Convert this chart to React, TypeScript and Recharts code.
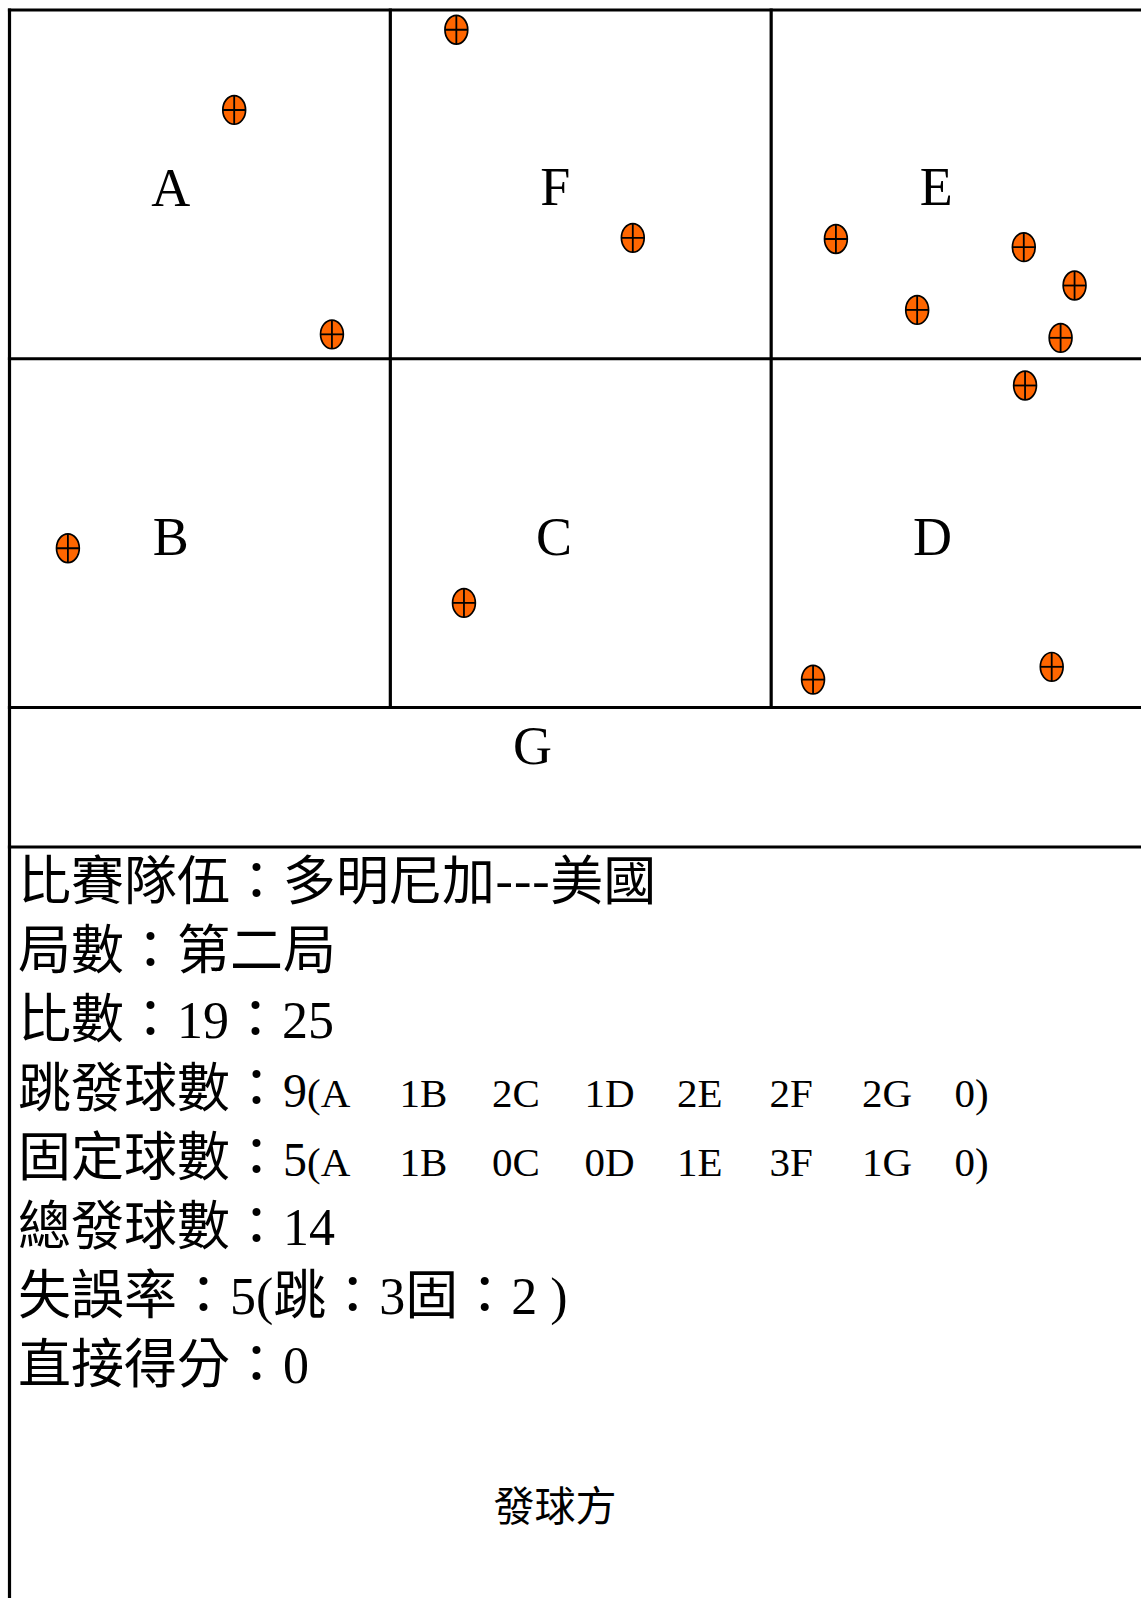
import React from 'react'
import { ScatterChart, Scatter, XAxis, YAxis, ReferenceLine } from 'recharts'

// court units: every zone is 3 x 3, the G strip under them is 1.2 deep
const colLines = [0, 3, 6, 9]
const rowLines = [0, 3, 6, 7.2]
const leftEdgeEnd = 13.7

const zoneNames = ['A', 'F', 'E', 'B', 'C', 'D', 'G']
const zoneLabelX = [1.27, 4.3, 7.3, 1.27, 4.29, 7.27, 4.12]
const zoneLabelY = [1.53, 1.52, 1.52, 4.53, 4.53, 4.53, 6.33]

// where each serve landed
const ballX = [1.77, 2.54, 3.52, 4.91, 6.51, 7.15, 7.99, 8.39, 8.28, 0.46, 3.58, 8.0, 6.33, 8.21]
const ballY = [0.86, 2.79, 0.17, 1.96, 1.97, 2.58, 2.04, 2.37, 2.82, 4.63, 5.1, 3.23, 5.76, 5.65]

// summary numbers
const teams = ['多明尼加', '美國']
const setLabel = '第二局'
const score = [19, 25]
const breakdownZones = ['A', 'B', 'C', 'D', 'E', 'F', 'G']
const jumpByZone = [1, 2, 1, 2, 2, 2, 0]
const floatByZone = [1, 0, 0, 1, 3, 1, 0]
const serveTotals = [9, 5, 14] // jump, float, all
const errors = [5, 3, 2] // total, jump, float
const aces = 0

const cjk = '"Noto Sans CJK TC", "Noto Sans CJK SC", sans-serif'
const serif = '"Liberation Serif", "Times New Roman", serif'

const balls = ballX.map((x, i) => ({ x, y: ballY[i] }))
const labels = zoneNames.map((name, i) => ({ x: zoneLabelX[i], y: zoneLabelY[i], name }))

function Ball({ cx, cy }: any) {
  const rx = 11.4
  const ry = 14.3
  return (
    <g>
      <ellipse cx={cx} cy={cy} rx={rx} ry={ry} fill="#FF6600" stroke="#000" strokeWidth={1.7} />
      <line x1={cx} y1={cy - ry} x2={cx} y2={cy + ry} stroke="#000" strokeWidth={1.8} />
      <line x1={cx - rx} y1={cy} x2={cx + rx} y2={cy} stroke="#000" strokeWidth={1.8} />
    </g>
  )
}

function ZoneLabel({ cx, cy, payload }: any) {
  return (
    <text x={cx} y={cy} textAnchor="middle" dominantBaseline="central" fontFamily={serif} fontSize={54} fill="#000">
      {payload.name}
    </text>
  )
}

const S = ({ children, size = 52 }: { children: React.ReactNode; size?: number }) => (
  <span style={{ fontFamily: serif, fontSize: size, lineHeight: 1 }}>{children}</span>
)

function Breakdown({ counts }: { counts: number[] }) {
  const groups = ['(' + breakdownZones[0]]
  for (let i = 1; i < breakdownZones.length; i++) groups.push(counts[i - 1] + breakdownZones[i])
  groups.push(counts[counts.length - 1] + ')')
  return (
    <>
      {groups.map((g, i) => (
        <span key={i} style={{ display: 'inline-block', width: i === groups.length - 1 ? 'auto' : 92.5, fontFamily: serif, fontSize: 41, lineHeight: 1 }}>
          {g}
        </span>
      ))}
    </>
  )
}

const LINE_H = 68.9

export default function App() {
  const rows: React.ReactNode[] = [
    <>比賽隊伍：{teams.join('---')}</>,
    <>局數：{setLabel}</>,
    <>比數：<S>{score[0]}</S>：<S>{score[1]}</S></>,
    <>跳發球數：<S size={48}>{serveTotals[0]}</S><Breakdown counts={jumpByZone} /></>,
    <>固定球數：<S size={48}>{serveTotals[1]}</S><Breakdown counts={floatByZone} /></>,
    <>總發球數：<S>{serveTotals[2]}</S></>,
    <>失誤率：<S>{errors[0]}(</S>跳：<S>{errors[1]}</S>固：<S>{errors[2]} )</S></>,
    <>直接得分：<S>{aces}</S></>,
  ]
  const line = { stroke: '#000', strokeWidth: 3.2, strokeLinecap: 'square' as const, ifOverflow: 'visible' as const }
  return (
    <div style={{ position: 'fixed', left: 0, top: 0, width: 1141, height: 1598, overflow: 'hidden', background: '#fff' }}>
      <ScatterChart width={1160} height={1598} margin={{ top: 10, right: 8, bottom: 751, left: 9.5 }}>
        <XAxis type="number" dataKey="x" domain={[0, 9]} hide allowDataOverflow />
        <YAxis type="number" dataKey="y" domain={[0, 7.2]} reversed hide allowDataOverflow />
        {rowLines.map((y) => (
          <ReferenceLine key={'r' + y} segment={[{ x: colLines[0], y }, { x: colLines[3], y }]} {...line} />
        ))}
        <ReferenceLine segment={[{ x: colLines[0], y: 0 }, { x: colLines[0], y: leftEdgeEnd }]} {...line} />
        {colLines.slice(1, 3).map((x) => (
          <ReferenceLine key={'c' + x} segment={[{ x, y: 0 }, { x, y: rowLines[2] }]} {...line} />
        ))}
        <ReferenceLine segment={[{ x: colLines[3], y: 0 }, { x: colLines[3], y: rowLines[3] }]} {...line} />
        <Scatter data={labels} shape={ZoneLabel} isAnimationActive={false} />
        <Scatter data={balls} shape={Ball} isAnimationActive={false} />
      </ScatterChart>
      {rows.map((r, i) => (
        <div
          key={i}
          style={{
            position: 'absolute',
            left: 18,
            top: 843.4 + i * LINE_H,
            height: LINE_H,
            lineHeight: LINE_H + 'px',
            fontFamily: cjk,
            fontSize: 53,
            whiteSpace: 'nowrap',
            color: '#000',
          }}
        >
          {r}
        </div>
      ))}
      <div style={{ position: 'absolute', left: 493.5, top: 1483, lineHeight: '41px', fontFamily: cjk, fontSize: 41, whiteSpace: 'nowrap', color: '#000' }}>
        發球方
      </div>
    </div>
  )
}
